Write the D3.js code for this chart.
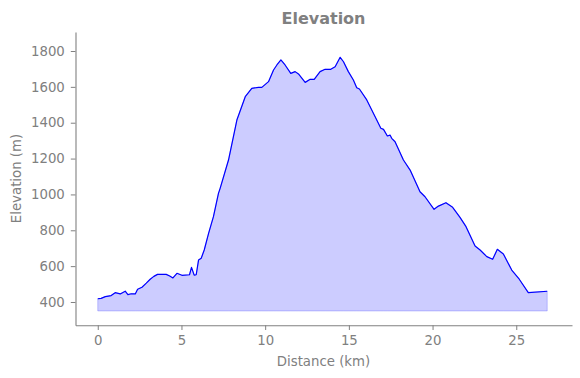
<!DOCTYPE html>
<html>
<head>
<meta charset="utf-8">
<script src="https://cdn.jsdelivr.net/npm/d3@7"></script>
<style>
  body { margin: 0; background: #fff; }
  text { font-family: "DejaVu Sans", sans-serif; }
</style>
</head>
<body>
<script>
var w = 580;
var h = 378;

// distance along the route (km) and elevation (m), read from the profile
var distance = [0, 0.2, 0.45, 0.8, 1.04, 1.34, 1.64, 1.8, 2.0, 2.24, 2.38, 2.64, 2.9, 3.13, 3.35, 3.57,
    4.09, 4.3, 4.49, 4.73, 5.03, 5.48, 5.6, 5.76, 5.88, 6.02, 6.18, 6.36, 6.62, 6.91, 7.21, 7.31,
    7.81, 8.31, 8.81, 9.2, 9.6, 9.8, 10.2, 10.5, 10.7, 10.94, 11.19, 11.53, 11.79, 11.99, 12.39,
    12.69, 12.93, 13.28, 13.58, 13.92, 14.18, 14.48, 14.68, 14.97, 15.27, 15.47, 15.63, 16.07,
    16.57, 16.91, 17.07, 17.3, 17.46, 17.56, 17.76, 18.26, 18.66, 19.25, 19.55, 20.09, 20.35,
    20.8, 21.2, 21.64, 22.0, 22.54, 22.84, 23.24, 23.59, 23.87, 24.23, 24.73, 25.18, 25.72, 26.85];
var elevation = [418, 420, 430, 436, 452, 445, 460, 441, 446, 445, 471, 482, 505, 527, 543, 554,
    554, 545, 534, 560, 549, 552, 593, 550, 552, 634, 644, 690, 783, 876, 1006, 1034,
    1192, 1415, 1545, 1592, 1597, 1597, 1629, 1694, 1722, 1750, 1722, 1675, 1685, 1672, 1625,
    1642, 1642, 1685, 1698, 1698, 1712, 1765, 1740, 1685, 1638, 1595, 1588, 1527,
    1433, 1369, 1363, 1326, 1331, 1313, 1294, 1192, 1136, 1015, 987, 917, 935,
    954, 928, 872, 820, 712, 690, 653, 638, 694, 668, 578, 527, 452, 460];
var baseElevation = 350;
var xTicks = [0, 5, 10, 15, 20, 25];
var yTicks = [400, 600, 800, 1000, 1200, 1400, 1600, 1800];

var points = distance.map(function(d, i){ return [d, elevation[i]]; });

var xScale = d3.scaleLinear()
    .domain([-1.33, 28.33])
    .range([75.5, 572]);
var yScale = d3.scaleLinear()
    .domain([270, 1906])
    .range([325.3, 32]);

var svg = d3.select("body")
    .append("svg")
    .attr("width", w)
    .attr("height", h);

// filled area under the profile
var area = d3.area()
    .x(function(d){ return xScale(d[0]); })
    .y0(yScale(baseElevation))
    .y1(function(d){ return yScale(d[1]); });

svg.append("path")
    .datum(points)
    .attr("d", area)
    .attr("fill", "rgba(0,0,255,0.2)")
    .attr("stroke", "rgba(0,0,255,0.2)")
    .attr("stroke-width", 1);

var line = d3.line()
    .x(function(d){ return xScale(d[0]); })
    .y(function(d){ return yScale(d[1]); });

svg.append("path")
    .datum(points)
    .attr("d", line)
    .attr("fill", "none")
    .attr("stroke", "blue")
    .attr("stroke-width", 1.2)
    .attr("stroke-linejoin", "round");

// axes (left + bottom spines only)
var xAxis = svg.append("g")
    .attr("transform", "translate(0," + 325.3 + ")")
    .call(d3.axisBottom(xScale).tickValues(xTicks).tickFormat(d3.format("d"))
        .tickSize(4.7).tickSizeOuter(0).tickPadding(6));
var yAxis = svg.append("g")
    .attr("transform", "translate(" + 75.5 + ",0)")
    .call(d3.axisLeft(yScale).tickValues(yTicks).tickFormat(d3.format("d"))
        .tickSize(4.7).tickSizeOuter(0).tickPadding(6));

[xAxis, yAxis].forEach(function(g){
    g.select(".domain").attr("stroke", "#808080").attr("stroke-width", 1.1);
    g.selectAll(".tick line").attr("stroke", "#808080").attr("stroke-width", 1);
    g.selectAll(".tick text")
        .attr("fill", "#808080")
        .style("font-size", "13.3px")
        .style("font-family", "DejaVu Sans, sans-serif");
});

svg.append("text")
    .text("Elevation")
    .attr("x", 323.5)
    .attr("y", 24)
    .attr("text-anchor", "middle")
    .attr("fill", "#808080")
    .style("font-size", "16px")
    .style("font-weight", "bold");

svg.append("text")
    .text("Distance (km)")
    .attr("x", 323.5)
    .attr("y", 366)
    .attr("text-anchor", "middle")
    .attr("fill", "#808080")
    .style("font-size", "13.3px");

svg.append("text")
    .text("Elevation (m)")
    .attr("transform", "translate(21,178.5) rotate(-90)")
    .attr("text-anchor", "middle")
    .attr("fill", "#808080")
    .style("font-size", "13.3px");
</script>
</body>
</html>
